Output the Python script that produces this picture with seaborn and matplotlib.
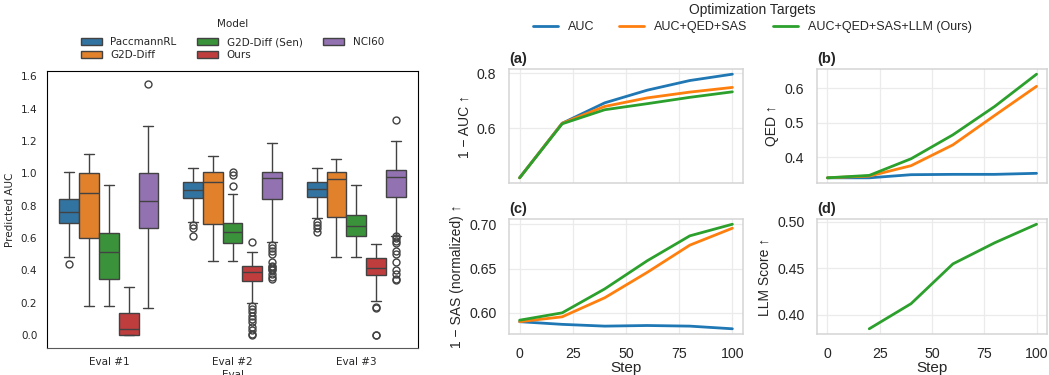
import matplotlib.pyplot as plt
import numpy as np
import seaborn as sns
import pandas as pd

# ---- left panel: predicted AUC boxplots (summary) ----
evals = ['Eval #1', 'Eval #2', 'Eval #3']
models = ['PaccmannRL', 'G2D-Diff', 'G2D-Diff (Sen)', 'Ours', 'NCI60']

# (whisker low, q1, median, q3, whisker high) per eval
box_paccmann = [(0.48, 0.69, 0.76, 0.84, 1.01),
                (0.70, 0.845, 0.90, 0.945, 1.03),
                (0.725, 0.855, 0.905, 0.945, 1.035)]
box_g2d = [(0.18, 0.60, 0.88, 1.00, 1.12),
           (0.46, 0.685, 0.945, 1.01, 1.11),
           (0.485, 0.73, 0.965, 1.01, 1.09)]
box_g2d_sen = [(0.18, 0.35, 0.515, 0.63, 0.93),
               (0.46, 0.57, 0.64, 0.695, 0.87),
               (0.485, 0.61, 0.675, 0.74, 0.93)]
box_ours = [(0.0, 0.0, 0.035, 0.135, 0.295),
            (0.20, 0.335, 0.39, 0.43, 0.515),
            (0.21, 0.37, 0.415, 0.475, 0.565)]
box_nci60 = [(0.17, 0.665, 0.83, 1.00, 1.295),
             (0.575, 0.84, 0.97, 1.01, 1.19),
             (0.615, 0.855, 0.98, 1.02, 1.20)]

fliers_paccmann = [[0.44], [0.68, 0.665, 0.61], [0.70, 0.68, 0.66, 0.64]]
fliers_g2d = [[], [], []]
fliers_g2d_sen = [[], [0.92, 0.99, 1.01], []]
fliers_ours = [[],
               [0.575, 0.18, 0.16, 0.14, 0.12, 0.10, 0.08, 0.05, 0.03, 0.01, 0.0],
               [0.175, 0.17, 0.0, 0.0]]
fliers_nci60 = [[1.555],
                [0.56, 0.54, 0.52, 0.50, 0.45, 0.43, 0.42, 0.41, 0.40, 0.38, 0.36, 0.345],
                [1.33, 0.61, 0.60, 0.58, 0.57, 0.52, 0.50, 0.45, 0.40, 0.38, 0.35, 0.34]]

# ---- right panels: optimisation curves ----
targets = ['AUC', 'AUC+QED+SAS', 'AUC+QED+SAS+LLM (Ours)']
steps = [0, 20, 40, 60, 80, 100]

auc_auc = [0.421, 0.619, 0.693, 0.739, 0.774, 0.797]
auc_qedsas = [0.421, 0.619, 0.680, 0.711, 0.732, 0.749]
auc_ours = [0.421, 0.617, 0.668, 0.690, 0.713, 0.733]

qed_auc = [0.341, 0.341, 0.350, 0.351, 0.351, 0.354]
qed_qedsas = [0.341, 0.346, 0.376, 0.436, 0.521, 0.605]
qed_ours = [0.341, 0.348, 0.396, 0.465, 0.547, 0.640]

sas_auc = [0.590, 0.587, 0.585, 0.5857, 0.585, 0.582]
sas_qedsas = [0.590, 0.5955, 0.617, 0.6457, 0.6764, 0.6955]
sas_ours = [0.5917, 0.600, 0.627, 0.6588, 0.6869, 0.700]

llm_steps = [20, 40, 60, 80, 100]
llm_ours = [0.3847, 0.4118, 0.4547, 0.4775, 0.4975]


sns.set_theme(style='whitegrid', rc={'grid.color': '#ebebeb', 'grid.linewidth': 0.9,
                                     'axes.edgecolor': '#d4d4d4', 'axes.linewidth': 1.1})
plt.rcParams['font.family'] = ['Liberation Sans', 'DejaVu Sans']

fig = plt.figure(figsize=(10.49, 3.75), dpi=100)

# ----- boxplot panel -----
ax = fig.add_axes([0.0448, 0.0728, 0.3537, 0.7379])
ax.set_facecolor('white')
ax.grid(False)
for sp in ax.spines.values():
  sp.set_color('black')
  sp.set_linewidth(0.8)
ax.spines['bottom'].set_color('0.35')
ax.tick_params(length=3.5, width=0.8, color='black', direction='out',
               labelsize=7.5, labelfontfamily='DejaVu Sans', pad=3.5)

box_colors = sns.color_palette('tab10', 5, desat=0.75)
all_boxes = [box_paccmann, box_g2d, box_g2d_sen, box_ours, box_nci60]
all_fliers = [fliers_paccmann, fliers_g2d, fliers_g2d_sen, fliers_ours, fliers_nci60]
width = 0.8 / len(models)
line_col = '0.26'
for j, m in enumerate(models):
  stats = []
  pos = []
  for i in range(len(evals)):
    lo, q1, med, q3, hi = all_boxes[j][i]
    stats.append({'whislo': lo, 'q1': q1, 'med': med, 'q3': q3, 'whishi': hi,
                  'fliers': np.array(all_fliers[j][i])})
    pos.append(i + (j - (len(models) - 1) / 2) * width)
  ax.bxp(stats, positions=pos, widths=width, capwidths=width * 0.5,
         patch_artist=True, manage_ticks=False,
         boxprops=dict(facecolor=box_colors[j], edgecolor=line_col, linewidth=1.0),
         medianprops=dict(color=line_col, linewidth=1.0),
         whiskerprops=dict(color=line_col, linewidth=1.0),
         capprops=dict(color=line_col, linewidth=1.0),
         flierprops=dict(marker='o', markerfacecolor='none', markeredgecolor=line_col,
                         markersize=5, markeredgewidth=1.0))

ax.set_xlim(-0.5, len(evals) - 0.5)
ax.set_xticks(range(len(evals)))
ax.set_xticklabels(evals)
ax.set_yticks(np.arange(0, 1.61, 0.2))
ax.set_ylabel('Predicted AUC', fontsize=7.5, fontfamily='DejaVu Sans')
ax.set_xlabel('Eval', fontsize=7.5, fontfamily='DejaVu Sans', labelpad=1.5)

handles = [plt.Rectangle((0, 0), 1, 1, facecolor=box_colors[j], edgecolor=line_col, linewidth=1.0)
           for j in range(len(models))]
leg = ax.legend(handles, models, title='Model', ncol=3, frameon=False,
                loc='lower center', bbox_to_anchor=(0.5, 1.005),
                prop={'family': 'DejaVu Sans', 'size': 7.5},
                handletextpad=0.8, columnspacing=2.0, labelspacing=0.3)
leg.get_title().set_fontfamily('DejaVu Sans')
leg.get_title().set_fontsize(7.5)
leg._legend_box.sep = 6

# ----- line panels -----
line_colors = dict(zip(targets, sns.color_palette('tab10', 3)))

def long_df(series, xs):
  rows = []
  for t, vals in series.items():
    for x, v in zip(xs, vals):
      rows.append({'Step': x, 'Target': t, 'value': v})
  return pd.DataFrame(rows)

df_auc = long_df(dict(zip(targets, [auc_auc, auc_qedsas, auc_ours])), steps)
df_qed = long_df(dict(zip(targets, [qed_auc, qed_qedsas, qed_ours])), steps)
df_sas = long_df(dict(zip(targets, [sas_auc, sas_qedsas, sas_ours])), steps)
df_llm = long_df({targets[2]: llm_ours}, llm_steps)

panels = [
  ([0.4852, 0.512, 0.2231, 0.304], df_auc, '1 − AUC ↑', '(a)', False),
  ([0.7788, 0.512, 0.2193, 0.304], df_qed, 'QED ↑', '(b)', False),
  ([0.4852, 0.1093, 0.2231, 0.3067], df_sas, '1 − SAS (normalized) ↑', '(c)', True),
  ([0.7788, 0.1093, 0.2193, 0.3067], df_llm, 'LLM Score ↑', '(d)', True),
]

for rect, d, ylab, tag, bottom in panels:
  a = fig.add_axes(rect)
  sns.lineplot(data=d, x='Step', y='value', hue='Target', palette=line_colors,
               linewidth=2.0, ax=a, legend=False)
  a.set_xlim(-5, 105)
  a.set_xticks([0, 25, 50, 75, 100])
  a.tick_params(labelsize=10.2, pad=3)
  a.set_ylabel(ylab, fontsize=10)
  a.set_title(tag, loc='left', fontweight='bold', fontsize=10.5, pad=4)
  if bottom:
    a.set_xlabel('Step', fontsize=11, labelpad=0)
  else:
    a.set_xlabel('')
    a.set_xticklabels([])

line_handles = [plt.Line2D([0], [0], color=line_colors[t], linewidth=2.0) for t in targets]
lg = fig.legend(line_handles, targets, title='Optimization Targets', ncol=3, frameon=False,
                loc='upper center', bbox_to_anchor=(0.717, 1.015), fontsize=9,
                title_fontsize=10, labelspacing=0.3, borderaxespad=0.3)

fig.savefig('out.png', dpi=100)
